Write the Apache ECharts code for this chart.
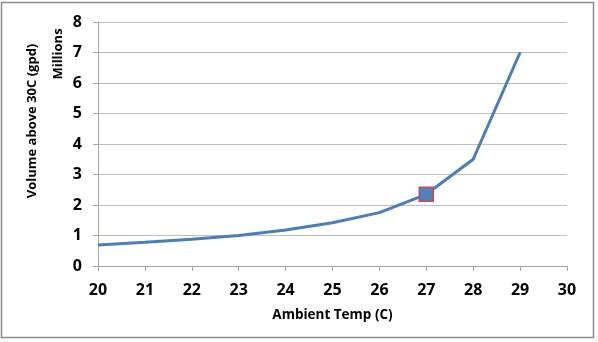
<!DOCTYPE html>
<html>
<head>
<meta charset="utf-8">
<script src="https://cdn.jsdelivr.net/npm/echarts@6/dist/echarts.min.js"></script>
<style>
html,body{margin:0;padding:0;background:#fff;}
#c{width:598px;height:342px;}
</style>
</head>
<body>
<div id="c"></div>
<script>
var temps = [20, 21, 22, 23, 24, 25, 26, 27, 28, 29];
var volumesMillions = [0.69, 0.78, 0.88, 1.0, 1.18, 1.42, 1.75, 2.35, 3.5, 7.0];
var highlightTemp = 27;
var xTitle = 'Ambient Temp (C)';
var yTitle = 'Volume above 30C (gpd)';
var yUnit = 'Millions';

var FONT = '"Open Sans", "DejaVu Sans", sans-serif';
var chart = echarts.init(document.getElementById('c'), null, {renderer: 'canvas'});

var seriesData = temps.map(function (t, i) {
  var item = {value: [t, volumesMillions[i]]};
  if (t === highlightTemp) {
    item.symbol = 'rect';
    item.symbolSize = 14;
    item.itemStyle = {color: '#4f81bd', borderColor: '#c0504d', borderWidth: 1.5};
  } else {
    item.symbol = 'none';
  }
  return item;
});

chart.setOption({
  animation: false,
  backgroundColor: '#fff',
  grid: {left: 98, right: 31, top: 22, bottom: 76},
  xAxis: {
    type: 'value', min: 20, max: 30, interval: 1,
    name: xTitle, nameLocation: 'middle', nameGap: 42,
    nameTextStyle: {fontFamily: FONT, fontWeight: 'bold', fontSize: 13.5, color: '#000'},
    axisLine: {show: true, lineStyle: {color: '#a6a6a6', width: 1}},
    axisTick: {show: true, length: 5, lineStyle: {color: '#a6a6a6'}},
    axisLabel: {fontFamily: FONT, fontWeight: 'bold', fontSize: 16, color: '#000', margin: 16},
    splitLine: {show: false}
  },
  yAxis: {
    type: 'value', min: 0, max: 8, interval: 1,
    axisLine: {show: true, lineStyle: {color: '#a6a6a6', width: 1}},
    axisTick: {show: true, length: 5, lineStyle: {color: '#a6a6a6'}},
    axisLabel: {fontFamily: FONT, fontWeight: 'bold', fontSize: 16, color: '#000', margin: 16},
    splitLine: {show: true, lineStyle: {color: '#bfbfbf', width: 1}}
  },
  graphic: [
    {type: 'rect', shape: {x: 1.5, y: 2.5, width: 592, height: 335}, style: {fill: 'none', stroke: '#8c8c8c', lineWidth: 1.5}, silent: true, z: -1},
    {type: 'text', x: 32, y: 121, rotation: Math.PI / 2, style: {text: yTitle, font: 'bold 13px ' + FONT, fill: '#000', align: 'center', verticalAlign: 'middle'}},
    {type: 'text', x: 58, y: 54, rotation: Math.PI / 2, style: {text: yUnit, font: 'bold 13px ' + FONT, fill: '#000', align: 'center', verticalAlign: 'middle'}}
  ],
  series: [{
    type: 'line',
    data: seriesData,
    lineStyle: {color: '#4a7ebb', width: 3},
    itemStyle: {color: '#4f81bd'},
    showSymbol: true,
    z: 3
  }]
});
</script>
</body>
</html>
